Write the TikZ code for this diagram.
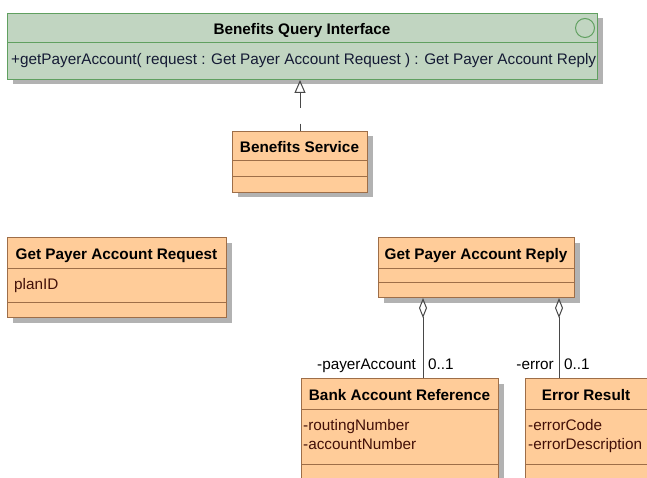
\documentclass[tikz,border=0pt]{standalone}
\usepackage{fontspec}
\setmainfont{Liberation Sans}
\usetikzlibrary{arrows.meta,shadows}
\definecolor{ifacefill}{RGB}{193,213,193}
\definecolor{ifaceline}{RGB}{96,160,96}
\definecolor{classfill}{RGB}{255,204,153}
\definecolor{classline}{RGB}{158,110,72}
\definecolor{shadowgray}{RGB}{178,178,178}
\definecolor{attrtext}{RGB}{66,16,8}
\definecolor{opertext}{RGB}{20,26,52}
\definecolor{linkgray}{RGB}{72,72,72}
\newcommand{\umlfont}{\fontsize{15.3pt}{18pt}\selectfont}
\tikzset{
  boxshadow/.style={drop shadow={shadow xshift=5pt,shadow yshift=-5pt,fill=shadowgray,opacity=1}},
  ifacebox/.style={draw=ifaceline,fill=ifacefill,line width=1pt,anchor=north west,inner sep=0pt,boxshadow},
  classbox/.style={draw=classline,fill=classfill,line width=1pt,anchor=north west,inner sep=0pt,boxshadow},
  title/.style={font=\umlfont\bfseries,inner sep=0pt,anchor=base},
  attr/.style={font=\umlfont,text=attrtext,inner sep=0pt,anchor=base west},
  oper/.style={font=\umlfont,text=opertext,inner sep=0pt,anchor=base west},
  role/.style={font=\umlfont,inner sep=0pt},
  realize/.style={draw=linkgray,line width=1pt,dash pattern=on 15pt off 16pt,{Triangle[open,length=13pt,width=11pt]}-},
  aggr/.style={draw=linkgray,line width=1pt,{Diamond[open,length=20pt,width=8pt]}-}
}
\begin{document}
\begin{tikzpicture}[x=1pt,y=-1pt]
  \fill[white,use as bounding box] (0,0) rectangle (647,478);
  \clip (0,0) rectangle (647,478);

  \node[ifacebox,minimum width=590pt,minimum height=66pt] (iface) at (7,13) {};
  \draw[ifaceline,line width=1pt] (7,43) -- (597,43);
  \draw[ifaceline,line width=1pt] (585,28) circle (9.5);
  \node[title] (ifacetitle) at (302,35) {Benefits Query Interface};
  \node[oper] (ifaceop) at (11,65) {+getPayerAccount( request : Get Payer Account Request ) : Get Payer Account Reply};

  \node[classbox,minimum width=135pt,minimum height=61pt] (svc) at (232,131) {};
  \draw[classline,line width=1pt] (232,161) -- (367,161) (232,177) -- (367,177);
  \node[title] (svctitle) at (299.5,153) {Benefits Service};

  \node[classbox,minimum width=219pt,minimum height=80pt] (req) at (7,237) {};
  \draw[classline,line width=1pt] (7,268) -- (226,268) (7,302) -- (226,302);
  \node[title] (reqtitle) at (116.5,259) {Get Payer Account Request};
  \node[attr] (reqplan) at (14,289) {planID};

  \node[classbox,minimum width=196pt,minimum height=60pt] (reply) at (378,237) {};
  \draw[classline,line width=1pt] (378,268) -- (574,268) (378,282) -- (574,282);
  \node[title] (replytitle) at (476,259) {Get Payer Account Reply};

  \node[classbox,minimum width=197pt,minimum height=112pt] (bank) at (301,378) {};
  \draw[classline,line width=1pt] (301,409) -- (498,409) (301,464) -- (498,464);
  \node[title] (banktitle) at (399.5,400) {Bank Account Reference};
  \node[attr] (bankrouting) at (303,430) {-routingNumber};
  \node[attr] (bankaccount) at (303,449) {-accountNumber};

  \node[classbox,minimum width=123pt,minimum height=112pt] (err) at (525,378) {};
  \draw[classline,line width=1pt] (525,409) -- (648,409) (525,464) -- (648,464);
  \node[title] (errtitle) at (586,400) {Error Result};
  \node[attr] (errcode) at (528,430) {-errorCode};
  \node[attr] (errdesc) at (528,449) {-errorDescription};

  \draw[realize] (iface.south -| svc.north) -- (svc.north);

  \coordinate (payend) at (423,0);
  \coordinate (errend) at (559,0);
  \draw[aggr] (reply.south -| payend) -- (bank.north -| payend);
  \draw[aggr] (reply.south -| errend) -- (err.north -| errend);
  \node[role,anchor=base east] (payrole) at (416,369) {-payerAccount};
  \node[role,anchor=base west] (paymult) at (428,369) {0..1};
  \node[role,anchor=base east] (errrole) at (554,369) {-error};
  \node[role,anchor=base west] (errmult) at (564,369) {0..1};
\end{tikzpicture}
\end{document}
